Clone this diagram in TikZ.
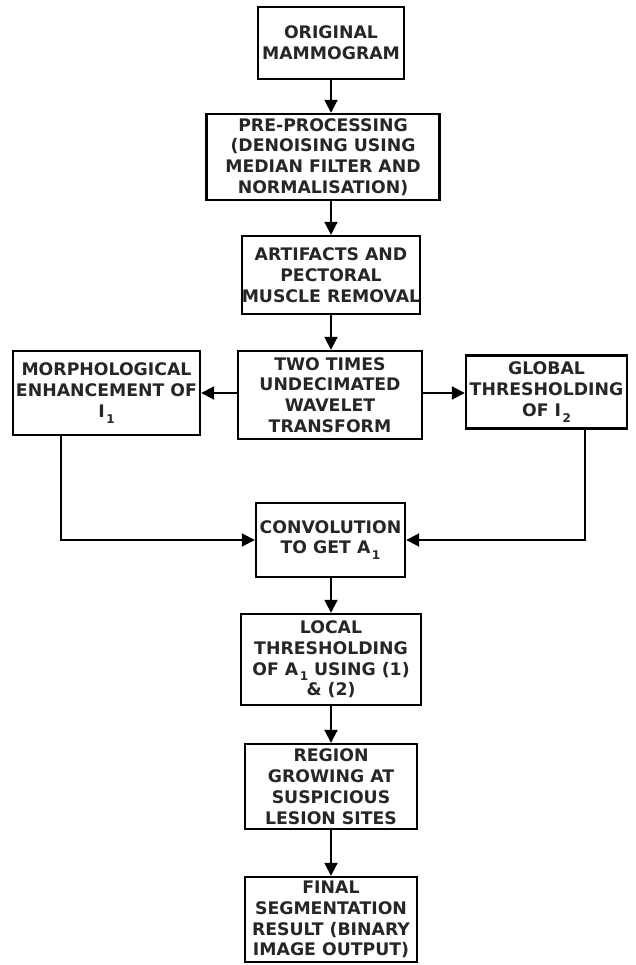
\documentclass[tikz,border=0pt]{standalone}
\usepackage{fontspec}
\setmainfont{DejaVu Sans}
\usetikzlibrary{arrows.meta}
\newcommand{\lowsub}[1]{\hspace{1.5pt}\raisebox{-0.6ex}{\fontsize{12}{12}\selectfont #1}}
\tikzset{
  box/.style={draw=black, line width=2.4pt, align=center, inner sep=0pt,
    font=\fontsize{17.3}{20.8}\selectfont\bfseries, text=black!85},
  conn/.style={line width=2pt, -{Triangle[length=13pt,width=13pt]}}
}
\begin{document}
\begin{tikzpicture}[x=1pt,y=-1pt]
\useasboundingbox (0,0) rectangle (636,965);
\node[box, minimum width=146pt, minimum height=72pt] (b1) at (331,43) {ORIGINAL\\MAMMOGRAM};
\node[box, minimum width=233pt, minimum height=86pt] (b2) at (323,157) {PRE-PROCESSING\\(DENOISING USING\\MEDIAN FILTER AND\\NORMALISATION)};
\node[box, minimum width=178pt, minimum height=78pt] (b3) at (331,275) {ARTIFACTS AND\\PECTORAL\\MUSCLE REMOVAL};
\node[box, minimum width=184pt, minimum height=88pt] (b4) at (330,395) {TWO TIMES\\UNDECIMATED\\WAVELET\\TRANSFORM};
\node[box, minimum width=187pt, minimum height=84pt] (bl) at (106.5,393) {MORPHOLOGICAL\\ENHANCEMENT OF\\I\lowsub{1}};
\node[box, minimum width=161pt, minimum height=73pt] (br) at (546.5,392) {GLOBAL\\THRESHOLDING\\OF I\lowsub{2}};
\node[box, minimum width=149pt, minimum height=74pt] (b5) at (330.5,540) {CONVOLUTION\\TO GET A\lowsub{1}};
\node[box, minimum width=180pt, minimum height=91pt] (b6) at (331,659.5) {LOCAL\\THRESHOLDING\\OF A\lowsub{1} USING (1)\\\&~(2)};
\node[box, minimum width=172pt, minimum height=85pt] (b7) at (331,786.5) {REGION\\GROWING AT\\SUSPICIOUS\\LESION SITES};
\node[box, minimum width=172pt, minimum height=85pt] (b8) at (331,919.5) {FINAL\\SEGMENTATION\\RESULT (BINARY\\IMAGE OUTPUT)};
\draw[conn] (b1.south) -- (b1.south |- b2.north);
\draw[conn] (b1.south |- b2.south) -- (b3.north);
\draw[conn] (b3.south) -- (b3.south |- b4.north);
\draw[conn] (b4.west |- 0,393) -- (bl.east |- 0,393);
\draw[conn] (b4.east |- 0,393) -- (br.west |- 0,393);
\draw[conn] (bl.south -| 61,0) |- (b5.west);
\draw[conn] (br.south -| 585,0) |- (b5.east);
\draw[conn] (b5.south -| b6.north) -- (b6.north);
\draw[conn] (b6.south) -- (b7.north);
\draw[conn] (b7.south) -- (b8.north);
\end{tikzpicture}
\end{document}
